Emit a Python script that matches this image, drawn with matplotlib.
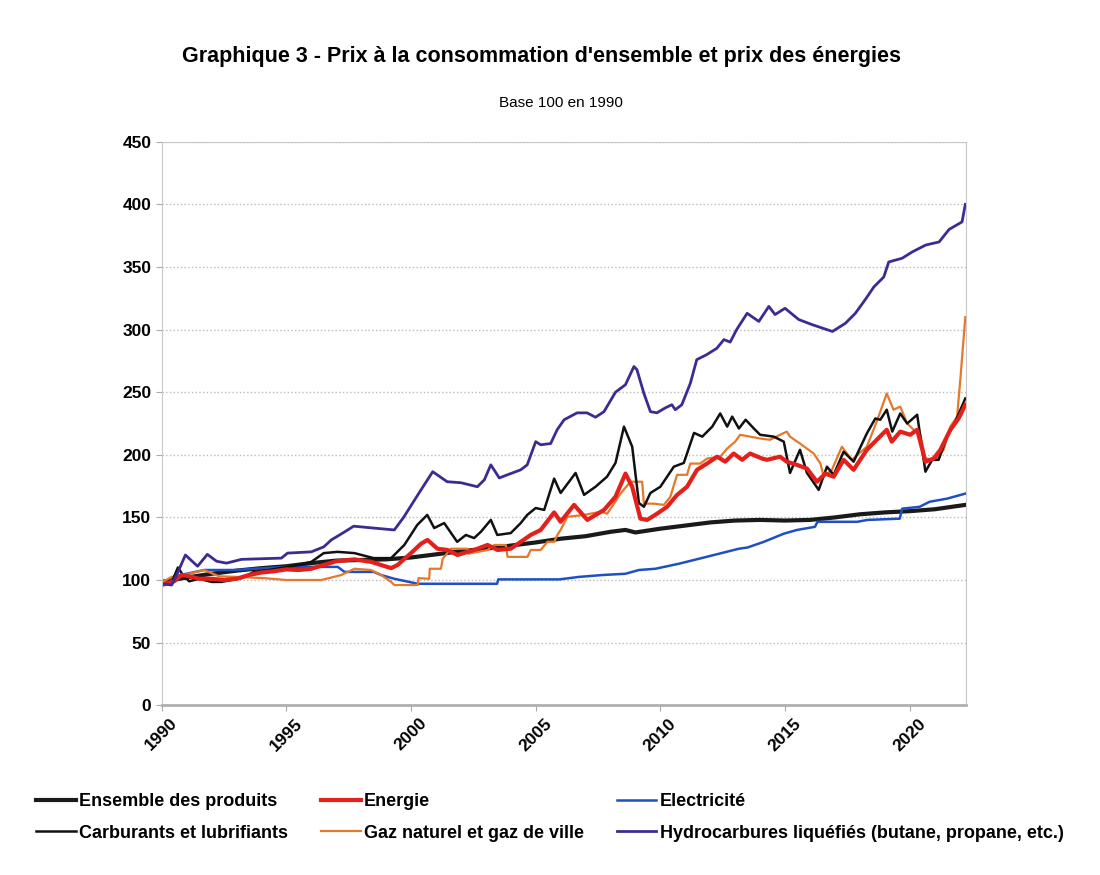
import matplotlib
matplotlib.use("Agg")
import matplotlib.pyplot as plt

plt.rcParams['font.family'] = ['Liberation Sans', 'DejaVu Sans']

# Indices, base 100 en 1990
ens_x = [1990.0, 1991, 1992, 1993, 1994, 1995, 1996, 1997, 1998, 1999, 2000, 2001, 2002, 2003,
         2004, 2005, 2006, 2007, 2008, 2008.6, 2009, 2010, 2011, 2012, 2013, 2014, 2015, 2016,
         2017, 2018, 2019, 2020, 2021, 2022.23]
ens_y = [98.5, 102, 105, 107.5, 109.5, 111, 113.5, 115.5, 116, 116.5, 118, 120.5, 123, 125,
         127.5, 130, 133, 135, 138.5, 140, 138, 141, 143.5, 146, 147.5, 148, 147.5, 148,
         150, 152.5, 154, 155, 156.5, 160]

carb_x = [1990.0, 1990.4, 1990.65, 1990.85, 1991.1, 1991.5, 1992.0, 1992.4, 1992.8, 1993.2,
          1993.7, 1994.3, 1995.05, 1995.5, 1996.0, 1996.5, 1997.05, 1997.73, 1998.5, 1999.2,
          1999.73, 2000.25, 2000.65, 2000.93, 2001.33, 2001.85, 2002.2, 2002.53, 2002.8, 2003.2,
          2003.46, 2004.0, 2004.4, 2004.66, 2005.0, 2005.34, 2005.74, 2006.0, 2006.6, 2006.94,
          2007.4, 2007.86, 2008.2, 2008.54, 2008.87, 2009.14, 2009.34, 2009.6, 2010.0, 2010.54,
          2010.94, 2011.35, 2011.68, 2012.08, 2012.4, 2012.68, 2012.88, 2013.15, 2013.42, 2013.75,
          2014.0, 2014.55, 2014.95, 2015.2, 2015.6, 2015.88, 2016.35, 2016.68, 2016.95, 2017.35,
          2017.75, 2018.28, 2018.62, 2018.82, 2019.08, 2019.3, 2019.62, 2019.9, 2020.3, 2020.63,
          2020.9, 2021.16, 2021.5, 2021.83, 2022.23]
carb_y = [96, 98, 110, 104, 99, 101, 98.5, 98.5, 100, 101.5,
          106.5, 108, 110.5, 112, 114.5, 121.5, 122.5, 121.5, 117.5, 117.5,
          128, 144, 152, 141.5, 145.5, 130.5, 136, 133.5, 138.5, 148,
          136, 137.5, 145.5, 152, 157.5, 156, 181, 169.5, 185.5, 168,
          174.5, 182.5, 193.5, 222.5, 206.5, 161.5, 158.5, 169.5, 174.5, 190.5,
          193.5, 217.5, 214.5, 222.5, 233, 222.5, 230.5, 221, 228, 221,
          216, 214.5, 210.5, 185.5, 204, 185.5, 172, 190.5, 184, 202.5,
          194.5, 217, 229, 228, 236, 218.5, 233, 225, 232, 186.5,
          196, 196, 214.5, 226.5, 245]

ener_x = [1990.0, 1990.5, 1990.8, 1991.1, 1991.5, 1992.0, 1992.5, 1993.0, 1993.5, 1994.0,
          1994.5, 1995.0, 1995.5, 1996.0, 1996.5, 1997.0, 1997.73, 1998.4, 1998.8, 1999.2,
          1999.46, 2000.0, 2000.4, 2000.66, 2001.06, 2001.46, 2001.86, 2002.53, 2003.07, 2003.47,
          2004.0, 2004.4, 2004.8, 2005.2, 2005.74, 2006.0, 2006.54, 2007.07, 2007.74, 2008.2,
          2008.6, 2008.87, 2009.2, 2009.47, 2009.87, 2010.27, 2010.67, 2011.07, 2011.47, 2011.87,
          2012.28, 2012.6, 2012.94, 2013.28, 2013.6, 2014.08, 2014.28, 2014.8, 2015.07, 2015.47,
          2015.88, 2016.28, 2016.62, 2016.95, 2017.35, 2017.75, 2018.28, 2018.68, 2019.08, 2019.28,
          2019.62, 2020.02, 2020.3, 2020.63, 2020.96, 2021.23, 2021.63, 2021.96, 2022.23]
ener_y = [96, 99, 104, 103, 101, 101, 100, 101, 104, 106,
          107, 108.5, 108, 109, 112, 115, 116.5, 114.5, 112, 109.5,
          112, 121.5, 129, 132, 125, 124, 120, 124, 128, 124,
          125, 130.5, 136, 140, 154, 146.5, 160, 148, 156, 166.5,
          185, 174.5, 149, 148, 153, 158.5, 168, 174.5, 188, 193,
          198.5, 194.5, 201, 196, 201, 197, 196, 198.5, 194.5, 192,
          189, 178.5, 185, 182.5, 196, 188, 204, 212, 220, 210.5,
          218.5, 216, 220, 194.5, 197, 204, 220, 229, 240]

elec_x = [1990.0, 1990.3, 1990.5, 1991.0, 1991.7, 1993.0, 1993.7, 1995.05, 1997.06, 1997.33,
          1998.5, 1998.8, 1999.33, 2000.27, 2003.45, 2003.5, 2005.94, 2006.74, 2007.67, 2008.6,
          2009.14, 2009.8, 2010.74, 2011.55, 2012.35, 2013.15, 2013.5, 2014.15, 2014.95, 2015.48,
          2016.2, 2016.3, 2017.9, 2018.3, 2019.6, 2019.7, 2020.4, 2020.8, 2021.5, 2022.23]
elec_y = [97, 97, 103, 105, 108, 108, 109, 110.5, 110.5, 106.5,
          106.5, 104, 101, 97, 97, 100.5, 100.5, 102.5, 104, 105,
          108, 109, 113, 117, 121, 125, 126, 130.5, 137, 140,
          142.5, 146.5, 146.5, 148, 149, 157, 158.5, 162.5, 165, 169]

gaz_x = [1990.0, 1990.4, 1990.9, 1991.7, 1992.3, 1993.0, 1994.1, 1995.0, 1996.4, 1997.2,
         1997.73, 1998.4, 1998.8, 1999.2, 1999.33, 2000.27, 2000.3, 2000.73, 2000.75, 2001.2,
         2001.27, 2001.6, 2002.27, 2002.3, 2003.07, 2003.34, 2003.8, 2003.87, 2004.67, 2004.8,
         2005.2, 2005.47, 2005.74, 2005.87, 2006.0, 2006.27, 2006.94, 2007.6, 2007.87, 2008.14,
         2008.4, 2008.8, 2009.27, 2009.34, 2009.74, 2010.14, 2010.4, 2010.67, 2011.07, 2011.2,
         2011.6, 2011.87, 2012.4, 2012.68, 2013.0, 2013.2, 2014.0, 2014.4, 2014.8, 2015.07,
         2015.2, 2015.6, 2016.15, 2016.42, 2016.55, 2016.88, 2017.28, 2017.68, 2018.28, 2018.55,
         2018.75, 2019.08, 2019.35, 2019.62, 2019.9, 2020.16, 2020.42, 2020.63, 2021.03, 2021.36,
         2021.63, 2021.9, 2022.03, 2022.23]
gaz_y = [98, 102.5, 104, 108, 103, 102.5, 101.5, 100, 100, 104,
         109, 108, 104, 98.5, 96, 96, 101.5, 101, 109, 109,
         117, 125, 125, 121, 124, 128, 128, 118.5, 118.5, 124,
         124, 130.5, 130.5, 136, 140, 150.5, 152, 154.5, 153, 161,
         169, 178.5, 178.5, 161, 161, 160, 166.5, 184, 184, 193,
         193, 197, 198.5, 205, 210.5, 216, 213, 212, 216, 218.5,
         214.5, 209, 201, 193, 182.5, 188, 206.5, 196, 206.5, 220,
         230.5, 249, 236, 238.5, 225, 220, 217, 197, 196, 204,
         222.5, 230.5, 260, 310]

hydro_x = [1990.0, 1990.4, 1990.6, 1990.95, 1991.44, 1991.83, 1992.2, 1992.6, 1993.2, 1994.0,
           1994.8, 1995.05, 1996.0, 1996.5, 1996.8, 1997.3, 1997.7, 1998.5, 1999.33, 1999.7,
           2000.4, 2000.87, 2001.45, 2002.0, 2002.66, 2002.94, 2003.2, 2003.54, 2003.86, 2004.4,
           2004.66, 2005.0, 2005.2, 2005.6, 2005.86, 2006.14, 2006.66, 2007.06, 2007.4, 2007.74,
           2008.2, 2008.6, 2008.94, 2009.06, 2009.34, 2009.6, 2009.86, 2010.2, 2010.46, 2010.6,
           2010.86, 2011.2, 2011.46, 2011.86, 2012.26, 2012.55, 2012.8, 2013.06, 2013.48, 2013.95,
           2014.35, 2014.6, 2015.0, 2015.55, 2016.08, 2016.9, 2017.42, 2017.82, 2018.22, 2018.56,
           2018.96, 2019.16, 2019.7, 2020.1, 2020.64, 2021.18, 2021.58, 2022.1, 2022.23]
hydro_y = [97, 96, 104, 120, 111, 120.5, 115, 113.5, 116.5, 117,
           117.5, 121.5, 122.5, 126.5, 132, 138, 143, 141.5, 140, 150,
           172, 186.5, 178.5, 177.7, 174.5, 180, 192, 181.5, 184, 188,
           192, 210.5, 208, 209, 220, 228, 233.5, 233.5, 230, 234.5,
           250, 256, 270.5, 268, 249, 234.5, 233.5, 237.5, 240, 236,
           240, 257, 276, 280, 285, 292, 290, 300, 313, 306.5,
           318.5, 312, 317, 308, 304, 298.5, 305, 313, 324, 334,
           342, 354, 357, 362, 367.5, 370, 380, 386, 400]

year_ticks = [1990, 1995, 2000, 2005, 2010, 2015, 2020]

fig = plt.figure(figsize=(11, 8.75), dpi=100)
ax = fig.add_axes([0.147, 0.194, 0.731, 0.644])

l_ens, = ax.plot(ens_x, ens_y, color='#1a1a1a', lw=3.0, label='Ensemble des produits')
l_elec, = ax.plot(elec_x, elec_y, color='#1f4fc4', lw=1.8, label='Electricité')
l_gaz, = ax.plot(gaz_x, gaz_y, color='#e5782a', lw=1.6, label='Gaz naturel et gaz de ville')
l_carb, = ax.plot(carb_x, carb_y, color='#111111', lw=1.8, label='Carburants et lubrifiants')
l_ener, = ax.plot(ener_x, ener_y, color='#e3201b', lw=3.0, label='Energie')
l_hydro, = ax.plot(hydro_x, hydro_y, color='#3d2a93', lw=2.0, label='Hydrocarbures liquéfiés (butane, propane, etc.)')

ax.set_xlim(1990, 2022.25)
ax.set_ylim(0, 450)
ax.set_yticks(range(0, 451, 50))
ax.set_xticks(year_ticks)
ax.set_xticklabels([str(y) for y in year_ticks], rotation=45, ha='center', va='top')
ax.tick_params(axis='both', labelsize=12.5, length=4, color='#aaaaaa')
for lab in ax.get_xticklabels() + ax.get_yticklabels():
    lab.set_fontweight('bold')
ax.grid(axis='y', color='#bbbbbb', linestyle=':', lw=1.0)
for s in ax.spines.values():
    s.set_color('#c8c8c8')
ax.spines['bottom'].set_color('#b0b0b0')
ax.spines['bottom'].set_linewidth(2)

fig.text(0.492, 0.935, "Graphique 3 - Prix à la consommation d'ensemble et prix des énergies",
         ha='center', va='center', fontsize=15.5, fontweight='bold')
fig.text(0.51, 0.882, "Base 100 en 1990", ha='center', va='center', fontsize=11)

handles = [l_ens, l_carb, l_ener, l_gaz, l_elec, l_hydro]
leg = fig.legend(handles=handles, labels=[h.get_label() for h in handles], ncol=3,
                 loc='upper left', bbox_to_anchor=(0.018, 0.112), frameon=False,
                 prop={'weight': 'bold', 'size': 13}, handlelength=2.2, handletextpad=0.2,
                 columnspacing=1.8, labelspacing=0.8)

fig.savefig('out.png', dpi=100)
